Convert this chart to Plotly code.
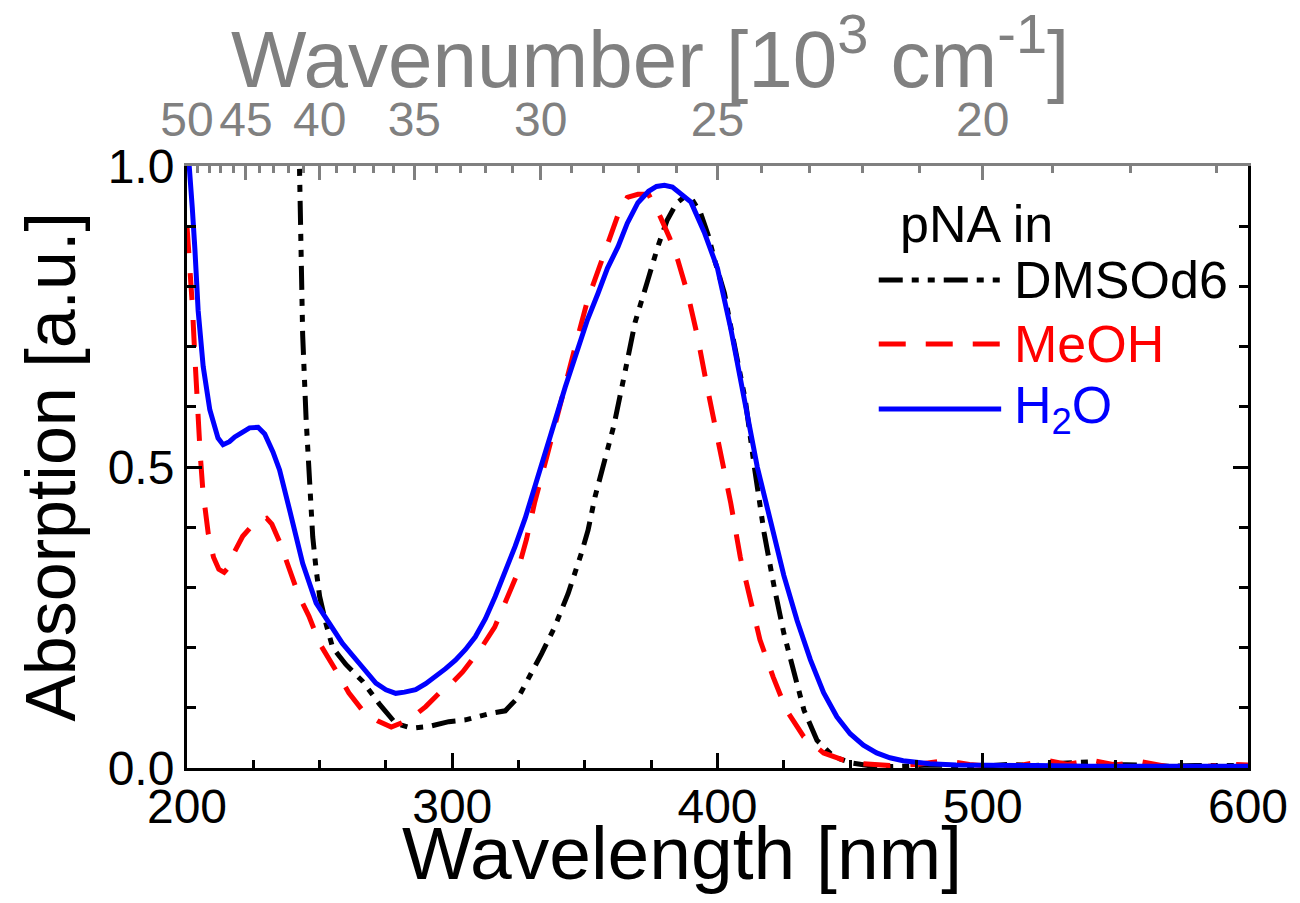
import plotly.graph_objects as go

# ---------------- data ----------------
wl_dmso = [242, 242.4, 243, 243.6, 244.9, 246.2, 247.4, 248.7, 250, 252.4, 254.9, 259.9, 266.2,
           272.4, 278.7, 284.9, 291.2, 298.7, 305, 313.7, 320, 325, 330, 333.7, 338.7, 343.7,
           348.7, 351.2, 353.8, 357.6, 361, 365, 368.9, 373.7, 377.5, 381, 384.5, 387.6, 390.5,
           393.6, 396.5, 398.9, 402.6, 405, 408.6, 410.5, 413.9, 417.6, 421.4, 425, 428.9, 432.6,
           437.5, 444, 451, 460, 470, 480, 490, 500, 510, 520, 530, 540, 550, 560, 570, 580, 590, 600]
abs_dmso = [1.05, 1.0, 0.86, 0.72, 0.58, 0.46, 0.384, 0.329, 0.285, 0.24, 0.2, 0.172, 0.144,
            0.107, 0.074, 0.066, 0.069, 0.077, 0.08, 0.09, 0.095, 0.118, 0.157, 0.19, 0.235, 0.29,
            0.357, 0.395, 0.45, 0.512, 0.57, 0.655, 0.74, 0.81, 0.866, 0.91, 0.938, 0.949, 0.944,
            0.922, 0.885, 0.844, 0.789, 0.733, 0.65, 0.611, 0.5, 0.39, 0.30, 0.224, 0.158, 0.096,
            0.046, 0.018, 0.008, 0.002, 0.003, 0.005, 0.004, 0.003, 0.006, 0.004, 0.008, 0.01,
            0.006, 0.004, 0.003, 0.004, 0.003, 0.004]

wl_meoh = [200, 201, 202, 203, 204, 205, 206, 208, 210, 212, 214, 216, 218, 221, 224, 227, 230,
           232, 235, 238, 242, 246, 250, 256, 261, 267, 272, 277, 281, 286, 290, 295, 300, 304,
           311, 316, 320, 324, 328, 331, 336, 341, 346, 351, 357.5, 363, 366, 370, 374, 378.5,
           382, 385, 388.7, 392.5, 396, 401, 405, 408.6, 412.4, 416, 421, 426, 432.5, 440, 447.5,
           455, 465, 475, 486, 495, 505, 515, 524, 532, 541, 550, 559, 570, 585, 595, 600]
abs_meoh = [0.9, 0.84, 0.77, 0.68, 0.59, 0.52, 0.46, 0.39, 0.35, 0.33, 0.325, 0.335, 0.36,
            0.385, 0.4, 0.412, 0.415, 0.405, 0.375, 0.335, 0.288, 0.252, 0.207, 0.163, 0.125,
            0.091, 0.078, 0.068, 0.075, 0.088, 0.102, 0.124, 0.142, 0.16, 0.2, 0.234, 0.274,
            0.317, 0.38, 0.44, 0.523, 0.611, 0.694, 0.777, 0.855, 0.925, 0.948, 0.953, 0.953,
            0.915, 0.88, 0.844, 0.789, 0.716, 0.635, 0.528, 0.44, 0.35, 0.279, 0.213, 0.151,
            0.096, 0.052, 0.025, 0.013, 0.007, 0.004, 0.006, 0.012, 0.006, 0.002, 0.005, 0.013,
            0.006, 0.013, 0.005, 0.011, 0.002, 0.003, 0.006, 0.005]

wl_h2o = [200, 201, 202, 203, 204.2, 206.1, 208.6, 211.7, 213.6, 216, 218, 221, 223.6, 226.8,
          229.3, 232.4, 234.9, 238.6, 240.5, 243.6, 248.7, 253.7, 258.6, 264.9, 271.2, 275,
          278.7, 282, 286.2, 290, 293.7, 297.5, 301.2, 305, 308.7, 312.5, 316.2, 320, 323.7,
          327.5, 332.5, 337.3, 342.6, 347.5, 351, 355, 358.5, 362.5, 366, 370, 374, 377, 380,
          383, 386, 390, 395, 400, 405, 410, 415, 420, 425, 430, 435, 440, 445, 450, 455, 460,
          465, 470, 480, 490, 500, 520, 540, 560, 580, 600]
abs_h2o = [1.05, 1.0, 0.93, 0.86, 0.76, 0.667, 0.595, 0.548, 0.537, 0.542, 0.55, 0.558, 0.565,
           0.566, 0.555, 0.525, 0.495, 0.43, 0.395, 0.34, 0.274, 0.24, 0.207, 0.174, 0.141, 0.13,
           0.124, 0.126, 0.13, 0.14, 0.152, 0.165, 0.179, 0.197, 0.218, 0.248, 0.285, 0.325,
           0.368, 0.415, 0.49, 0.556, 0.633, 0.70, 0.745, 0.789, 0.83, 0.866, 0.905, 0.939,
           0.958, 0.966, 0.968, 0.965, 0.955, 0.94, 0.89, 0.83, 0.73, 0.611, 0.50, 0.41, 0.32,
           0.245, 0.18, 0.125, 0.085, 0.057, 0.038, 0.025, 0.017, 0.012, 0.007, 0.005, 0.004,
           0.004, 0.003, 0.004, 0.003, 0.003]

x_ticks = [200, 300, 400, 500, 600]
y_ticks = [0.0, 0.5, 1.0]
wn_major = [50, 45, 40, 35, 30, 25, 20]          # 10^3 cm^-1
wn_minor = [w for w in range(17, 50) if w not in wn_major]

series_names = ["DMSOd6", "MeOH", "H<sub>2</sub>O"]
series_colors = ["black", "red", "blue"]
series_dash = ["24px,9px,7px,9px,7px,9px", "27px,20px", "solid"]

FONT = "Liberation Sans, Arial, sans-serif"
GRAY = "#808080"

# plot-area geometry (pixels)
L, R, T, B = 187, 1253, 166, 768


def px(xp):
    return (xp - L) / (R - L)


def py(yp):
    return (B - yp) / (B - T)


fig = go.Figure()
for wl, ab, nm, col, ds in zip([wl_dmso, wl_meoh, wl_h2o], [abs_dmso, abs_meoh, abs_h2o],
                               series_names, series_colors, series_dash):
    fig.add_trace(go.Scatter(x=wl, y=ab, mode="lines", name=nm, showlegend=False,
                             line=dict(color=col, width=5, dash=ds)))

# empty trace so that the top (wavenumber) axis is drawn
fig.add_trace(go.Scatter(x=[], y=[], xaxis="x2", showlegend=False, hoverinfo="skip"))

fig.update_layout(
    width=1300, height=903,
    margin=dict(l=L, r=1300 - R, t=T, b=903 - B),
    plot_bgcolor="white", paper_bgcolor="white",
    font=dict(family=FONT, color="black", size=48),
    showlegend=False,
    xaxis=dict(range=[200, 600], tickvals=x_ticks, ticks="inside", ticklen=15, tickwidth=3,
               tickcolor="black", showline=True, linecolor="black", linewidth=3,
               showgrid=False, zeroline=False, ticklabelstandoff=-6,
               minor=dict(dtick=25, tick0=200, ticks="inside", ticklen=8, tickwidth=3,
                          tickcolor="black"),
               tickfont=dict(size=48)),
    xaxis2=dict(range=[200, 600], overlaying="x", side="top", tickmode="array",
                tickvals=[10000 / w for w in wn_major], ticktext=[str(w) for w in wn_major],
                ticks="inside", ticklen=14, tickwidth=2.5, tickcolor=GRAY,
                showline=True, linecolor=GRAY, linewidth=3, showgrid=False, zeroline=False,
                ticklabelstandoff=8,
                minor=dict(tickmode="array", tickvals=[10000 / w for w in wn_minor],
                           ticks="inside", ticklen=7, tickwidth=2.5, tickcolor=GRAY),
                tickfont=dict(size=48, color=GRAY)),
    yaxis=dict(range=[0, 1], tickvals=y_ticks, tickformat=".1f", ticks="inside",
               ticklen=15, tickwidth=3, tickcolor="black", showline=True, linecolor="black",
               linewidth=3, mirror="ticks", showgrid=False, zeroline=False,
               minor=dict(dtick=0.1, ticks="inside", ticklen=9, tickwidth=3, tickcolor="black"),
               tickfont=dict(size=48),
               title=dict(text="Absorption [a.u.]", font=dict(size=70), standoff=10)),
)

# axis titles placed as in the reference
fig.add_annotation(text="Wavelength [nm]", xref="paper", yref="paper", x=px(684), y=py(853),
                   xanchor="center", yanchor="middle", showarrow=False,
                   font=dict(size=75, family=FONT, color="black"))
fig.add_annotation(text="Wavenumber [10<sup>3</sup> cm<sup>-1</sup>]", xref="paper",
                   yref="paper", x=px(652), y=py(53), xanchor="center", yanchor="middle",
                   showarrow=False, font=dict(size=80, family=FONT, color=GRAY))

# legend (drawn by hand to match the reference spacing)
fig.add_annotation(text="pNA in", xref="paper", yref="paper", x=px(901), y=py(224),
                   xanchor="left", yanchor="middle", showarrow=False,
                   font=dict(size=52, family=FONT, color="black"))
leg_y = [280, 344, 409]
for nm, col, ds, yy in zip(series_names, series_colors, series_dash, leg_y):
    fig.add_shape(type="line", xref="paper", yref="paper", x0=px(882), x1=px(1005),
                  y0=py(yy), y1=py(yy), line=dict(color=col, width=5, dash=ds))
    fig.add_annotation(text=nm, xref="paper", yref="paper", x=px(1016), y=py(yy),
                       xanchor="left", yanchor="middle", showarrow=False,
                       font=dict(size=52, family=FONT, color=col))

fig.write_html("out.html")
